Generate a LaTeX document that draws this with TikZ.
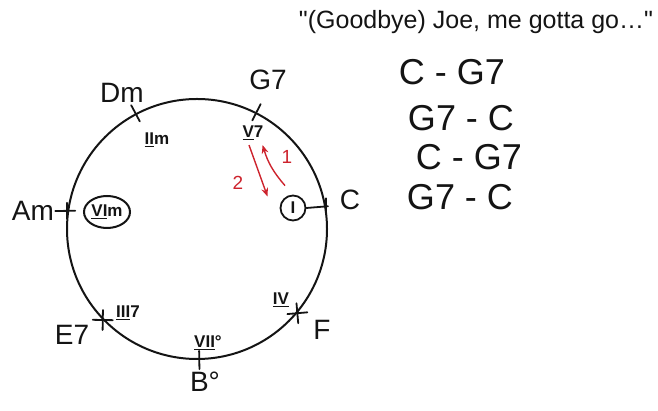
\documentclass[tikz,border=0pt]{standalone}
\usepackage{fontspec}
\setmainfont{Liberation Sans}[Ligatures=TeXOff]
\usepackage{xcolor}
\usepackage{tikz}
\usetikzlibrary{arrows.meta, calc, shapes.geometric}
\definecolor{ink}{RGB}{20,20,20}
\definecolor{redInk}{RGB}{205,35,45}
\tikzset{
  chordName/.style={
    font=\fontsize{28}{30}\selectfont,
    text=ink,
    inner sep=1pt
  },
  numeral/.style={
    font=\fontsize{17}{19}\selectfont\bfseries,
    text=ink,
    inner sep=1pt
  },
  progression/.style={
    font=\fontsize{36}{38}\selectfont,
    text=ink,
    inner sep=1pt
  },
  quoteText/.style={
    font=\fontsize{25}{27}\selectfont,
    text=ink,
    inner sep=1pt
  },
  ring/.style={draw=ink, line width=2pt},
  tickmark/.style={draw=ink, line width=1.8pt, line cap=round},
  chordArrow/.style={-{Stealth[length=3mm,width=2.4mm]}, draw=redInk, line width=1.4pt},
  redLabel/.style={font=\fontsize{19}{21}\selectfont, text=redInk, inner sep=1pt}
}

\begin{document}
\begin{tikzpicture}[x=1pt, y=1pt]
  \useasboundingbox (0,0) rectangle (658,411);

  % circle of fifths
  \node[circle, ring, minimum size=260pt, inner sep=0pt] (wheel) at (197,182) {};

  % chord names round the circle
  \node[chordName] (g7) at (268,331) {G7};
  \node[chordName] (dm) at (122,318) {Dm};
  \node[chordName] (am) at (33,200) {Am};
  \node[chordName] (c) at (350,211) {C};
  \node[chordName] (f) at (322,81) {F};
  \node[chordName] (bdim) at (205,29) {B°};
  \node[chordName] (e7) at (72,76) {E7};

  % degrees inside the circle
  \node[numeral] (v7) at (253,278) {\underline{V}7};
  \node[numeral] (iim) at (157,271) {\underline{II}m};
  \node[numeral, ellipse, draw=ink, line width=2pt, minimum width=46pt, minimum height=32pt, inner sep=0pt] (vim) at (107,199) {\underline{VI}m};
  \node[numeral, circle, draw=ink, line width=1.8pt, minimum size=25pt, inner sep=0pt] (tonic) at (293,203) {I};
  \node[numeral] (iv) at (281,111) {\underline{IV}};
  \node[numeral] (viidim) at (208,68) {\underline{VII}°};
  \node[numeral] (iii7) at (128,98) {\underline{III}7};

  % tick marks
  \foreach \ang in {63,118,-89}
    \draw[tickmark] ($(wheel.center)!0.93!(wheel.\ang)$) -- ($(wheel.center)!1.07!(wheel.\ang)$);
  \foreach \ang in {-40,-136} {
    \draw[tickmark] ($(wheel.\ang)+({\ang+45}:10)$) -- ($(wheel.\ang)+({\ang+225}:10)$);
    \draw[tickmark] ($(wheel.\ang)+({\ang-45}:10)$) -- ($(wheel.\ang)+({\ang+135}:10)$);
  }
  \draw[tickmark] (am.east) -- ($(wheel.172)+(8,0)$);
  \draw[tickmark] ($(wheel.172)+(0,-8)$) -- ($(wheel.172)+(0,8)$);
  \draw[tickmark] (tonic.east) -- ($(wheel.10)+(2,0)$);
  \draw[tickmark] ($(wheel.10)+(0,-8)$) -- ($(wheel.10)+(0,8)$);

  % V7 <-> I moves
  \draw[chordArrow] ([xshift=-4pt, yshift=-4pt]v7.south) -- ([xshift=-16pt, yshift=2pt]tonic.north west);
  \draw[chordArrow] ([xshift=-8pt, yshift=9pt]tonic.north) to[bend left=12] ([xshift=-2pt, yshift=-4pt]v7.south east);
  \node[redLabel] (two) at (238,228) {2};
  \node[redLabel] (one) at (287,254) {1};

  % the song and its changes
  \node[quoteText] (lyric) at (476,389) {"(Goodbye) Joe, me gotta go\dots"};
  \node[progression] (p1) at (452,339) {C - G7};
  \node[progression] (p2) at (461,293) {G7 - C};
  \node[progression] (p3) at (469,254) {C - G7};
  \node[progression] (p4) at (460,214) {G7 - C};
\end{tikzpicture}
\end{document}
